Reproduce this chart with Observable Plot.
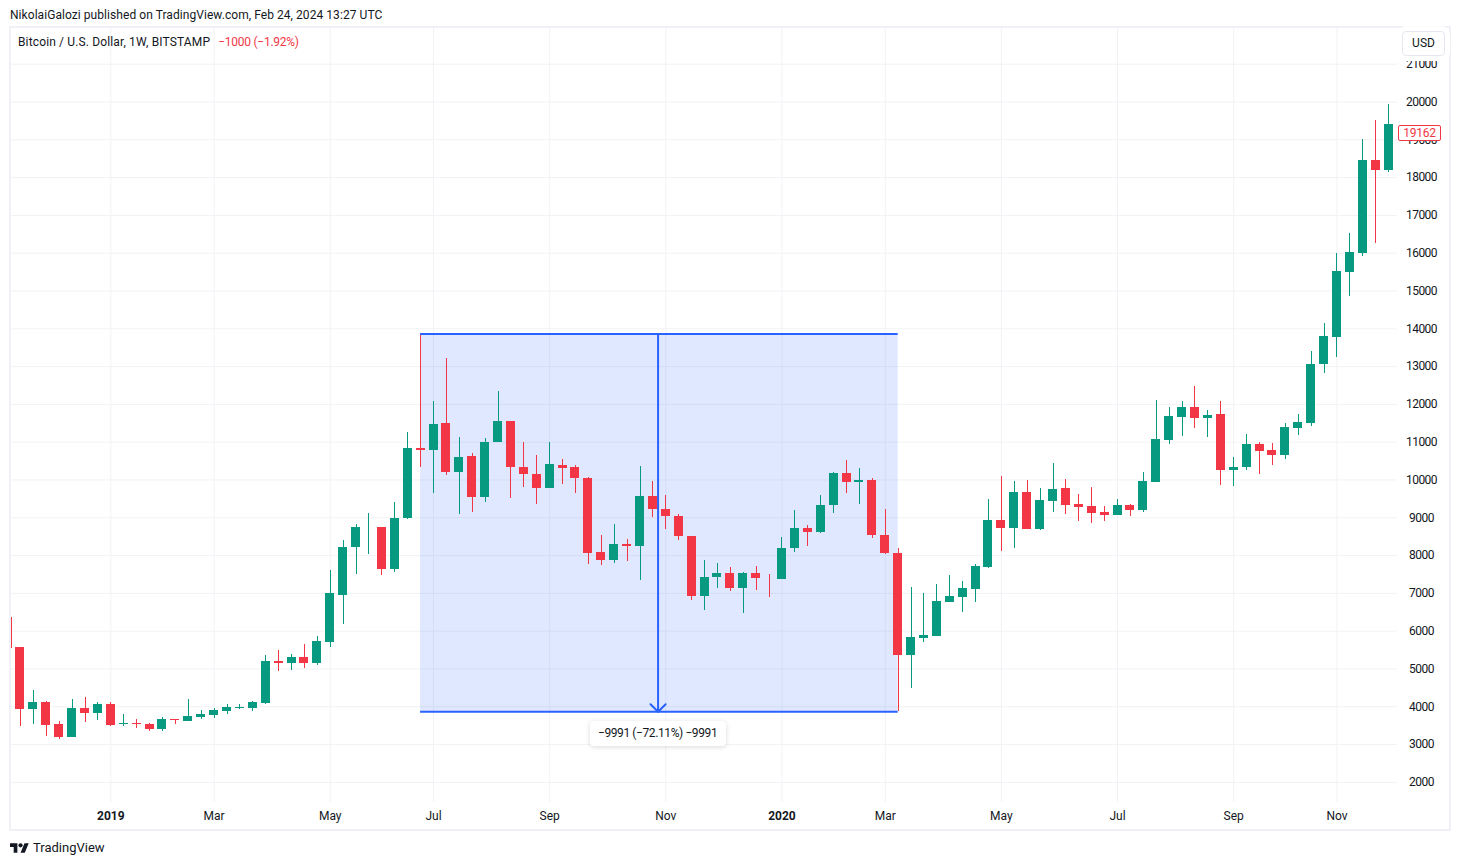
<!DOCTYPE html>
<html>
<head>
<meta charset="utf-8">
<script src="https://cdn.jsdelivr.net/npm/d3@7"></script>
<script src="https://cdn.jsdelivr.net/npm/@observablehq/plot@0.6"></script>
<style>
  html, body { margin: 0; padding: 0; background: #fff; }
  body { width: 1460px; height: 865px; position: relative; overflow: hidden; font-family: Roboto, sans-serif; color: #131722; }
  #published { position: absolute; left: 10px; top: 8px; font-size: 12px; line-height: 14px; white-space: nowrap; letter-spacing: 0.06px; }
  #frame { position: absolute; left: 9px; top: 26px; width: 1442px; height: 805px; box-sizing: border-box; border: 2px solid #f0f1f6; }
  #plot { position: absolute; left: 10px; top: 27px; }
  #plot svg { display: block; background: transparent; }
  #plot svg g[aria-label="y-axis tick label"] text { letter-spacing: -0.5px; }
  #legend { position: absolute; left: 18px; top: 35px; font-size: 12px; line-height: 14px; white-space: nowrap; letter-spacing: 0.14px; }
  #legend .chg { color: #f23645; margin-left: 8px; letter-spacing: -0.25px; }
  #usd { position: absolute; left: 1402px; top: 31px; width: 43px; height: 25px; box-sizing: border-box; border: 1px solid #e6e8f0; border-radius: 4px; background: #fff; box-shadow: 0 0 0 5px #fff; font-size: 12px; line-height: 23px; text-align: center; }
  #tag { position: absolute; left: 1398px; width: 43px; height: 16px; box-sizing: border-box; border: 1px solid #f23645; border-radius: 2px; background: #fff; color: #f23645; font-size: 12px; line-height: 14px; text-align: center; transform: translateY(-50%); letter-spacing: -0.2px; }
  #measure { position: absolute; width: 136px; height: 25px; background: #fff; border-radius: 4px; box-shadow: 0 1px 5px rgba(19,23,34,.16); font-size: 12px; line-height: 25px; text-align: center; white-space: nowrap; letter-spacing: -0.4px; }
  #brand { position: absolute; left: 10px; top: 840px; display: flex; align-items: center; gap: 4px; font-size: 13px; line-height: 16px; }
</style>
</head>
<body>
<div id="published">NikolaiGalozi published on TradingView.com, Feb 24, 2024 13:27 UTC</div>
<div id="frame"></div>
<div id="plot"></div>
<div id="legend">Bitcoin / U.S. Dollar, 1W, BITSTAMP<span class="chg">−1000 (−1.92%)</span></div>
<div id="usd">USD</div>
<div id="tag"></div>
<div id="measure">−9991 (−72.11%) −9991</div>
<div id="brand">
  <svg width="19" height="10" viewBox="0 4 36 18"><path fill="#131722" d="M14 22H7V11H0V4h14v18zM28 22h-8l7.5-18h8L28 22z"/><circle fill="#131722" cx="20" cy="8" r="4"/></svg>
  <span>TradingView</span>
</div>
<script>
const firstWeek = -1;
const opens = [6364,5570,3938,4115,3533,3197,3956,3832,4062,3541,3559,3533,3409,3665,3621,3718,3780,3885,3965,3965,4097,5199,5155,5305,5155,5711,6955,8208,8737,8755,7626,8976,10846,10775,11507,10193,10634,9531,10987,11560,10343,10158,9770,10396,10343,10052,8094,7864,8300,8229,9570,9226,9041,8512,6906,7409,7533,7118,7533,7400,7356,8176,8723,8600,9314,10178,9923,9993,8538,8062,5345,5813,5866,6765,6898,7109,7691,8935,8723,9676,8697,9438,9782,9358,9305,9147,9067,9332,9199,9929,11050,11649,11914,11623,11729,10247,10326,10935,10776,10644,11358,11490,13053,13767,15487,15990,18442,18186,19395];
const highs = [6500,5570,4432,4141,3621,4194,4247,4115,4115,3797,3665,3559,3718,3665,4194,3903,3956,4062,4062,4141,5358,5491,5385,5649,5861,7617,8411,8835,9126,8755,9417,11269,13860,12089,13227,11136,10713,11110,12354,11560,10987,10660,10987,10554,10396,10078,8544,8835,8432,10364,9967,9596,9094,8512,7877,7797,7691,7559,7718,7506,8485,9200,8803,9596,10205,10522,10311,10046,9226,8194,7162,7003,7241,7480,7321,7771,9490,10099,9967,9993,9782,10443,10020,9623,9808,9305,9491,9358,10205,12099,11914,12073,12470,11834,12073,10591,11200,10988,10961,11490,11729,13388,14129,15981,16510,18998,19500,19924,19400];
const lows = [5500,3488,3541,3224,3144,3197,3594,3647,3488,3488,3435,3356,3356,3541,3621,3674,3700,3806,3938,3885,4071,4944,4970,5023,5102,5579,6187,7494,8023,7467,7547,8949,10325,9637,10114,9082,9134,9399,10987,9505,9796,9346,9770,9875,9637,7758,7732,7785,7832,7330,8997,8679,8388,6800,6536,7118,7039,6457,7065,6880,7356,8071,8229,8573,9102,9632,9341,8441,8018,3869,4472,5707,5866,6765,6501,6765,7665,8115,8194,8697,8653,9147,9094,8908,8856,8908,9067,9041,9147,9929,10935,11147,11358,11120,9850,9824,10247,10141,10379,10538,11173,11411,12815,13238,14852,15902,16255,18124,19100];
const closes = [5552,3938,4115,3515,3197,3956,3832,4062,3515,3559,3541,3409,3665,3647,3744,3797,3903,3982,3982,4115,5199,5155,5305,5155,5729,7009,8226,8755,8755,7626,8993,10846,10775,11481,10193,10607,9531,11004,11560,10325,10140,9770,10422,10299,10034,8050,7864,8305,8229,9570,9208,9023,8494,6906,7427,7533,7118,7533,7383,7383,8194,8723,8600,9332,10178,9923,9993,8520,8044,5345,5839,5892,6792,6924,7136,7718,8935,8723,9676,8697,9464,9755,9332,9279,9120,9067,9332,9199,9967,11067,11676,11914,11623,11702,10247,10326,10935,10750,10644,11385,11517,13052,13785,15505,16008,18442,18186,19395,19162];

const upColor = "#089981";
const downColor = "#f23645";
const gridColor = "#f1f2f5";
const boxColor = "#2962ff";

const priceTicks = [2000,3000,4000,5000,6000,7000,8000,9000,10000,11000,12000,13000,14000,15000,16000,17000,18000,19000,20000,21000];
const monthWeeks = [15,24,32,41,50,67,76,85,94,102];
const monthNames = ["Mar","May","Jul","Sep","Nov","Mar","May","Jul","Sep","Nov"];
const yearWeeks = [7,59];
const yearNames = ["2019","2020"];
const allTimeWeeks = [...yearWeeks, ...monthWeeks];

const rangeStartWeek = 31, rangeEndWeek = 68, arrowWeek = 49.4;
const rangeHigh = 13860, rangeLow = 3869, lastPrice = 19162;
const candleHalf = 0.3487;

const candles = opens.map((o, i) => ({
  week: firstWeek + i, open: o, high: highs[i], low: lows[i], close: closes[i],
  color: closes[i] >= o ? upColor : downColor
}));
const nameOf = new Map([...monthWeeks.map((w, i) => [w, monthNames[i]]), ...yearWeeks.map((w, i) => [w, yearNames[i]])]);

const chart = Plot.plot({
  width: 1440, height: 803,
  marginLeft: 1, marginRight: 53, marginTop: 0, marginBottom: 28,
  style: { fontFamily: "Roboto, sans-serif", fontSize: "12px", color: "#131722", background: "transparent" },
  x: { type: "linear", domain: [-0.697, 106.69], label: null },
  y: { type: "linear", domain: [1468, 21971], label: null },
  marks: [
    Plot.ruleY(priceTicks, { stroke: gridColor, strokeWidth: 1 }),
    Plot.ruleX(allTimeWeeks, { stroke: gridColor, strokeWidth: 1 }),
    Plot.rect([{}], { x1: () => rangeStartWeek, x2: () => rangeEndWeek, y1: () => rangeLow, y2: () => rangeHigh, fill: boxColor, fillOpacity: 0.15 }),
    Plot.ruleX(candles, { x: "week", y1: "low", y2: "high", stroke: "color", strokeWidth: 1, clip: true, shapeRendering: "crispEdges" }),
    Plot.rect(candles, { x1: d => d.week - candleHalf, x2: d => d.week + candleHalf, y1: "open", y2: "close", fill: "color", clip: true, shapeRendering: "crispEdges" }),
    Plot.ruleY([rangeHigh, rangeLow], { x1: () => rangeStartWeek, x2: () => rangeEndWeek, stroke: boxColor, strokeWidth: 2 }),
    Plot.arrow([{}], { x1: () => arrowWeek, x2: () => arrowWeek, y1: () => rangeHigh, y2: () => rangeLow, stroke: boxColor, strokeWidth: 2, headAngle: 90, inset: 0 }),
    Plot.axisY({ anchor: "right", ticks: priceTicks, tickSize: 0, tickPadding: 24, textAnchor: "middle", tickFormat: d => String(d), label: null, fill: "#131722" }),
    Plot.axisX({ ticks: monthWeeks, tickSize: 0, tickPadding: 9, tickFormat: d => nameOf.get(d), label: null, fill: "#131722" }),
    Plot.axisX({ ticks: yearWeeks, tickSize: 0, tickPadding: 9, tickFormat: d => nameOf.get(d), label: null, fill: "#131722", fontWeight: 700 })
  ]
});
document.getElementById("plot").appendChild(chart);

const xScale = chart.scale("x"), yScale = chart.scale("y");
const tag = document.getElementById("tag");
tag.textContent = String(lastPrice);
tag.style.top = (27 + yScale.apply(lastPrice)) + "px";
const measure = document.getElementById("measure");
measure.style.left = (10 + xScale.apply(arrowWeek) - 68) + "px";
measure.style.top = (27 + yScale.apply(rangeLow) + 10) + "px";
</script>
</body>
</html>
